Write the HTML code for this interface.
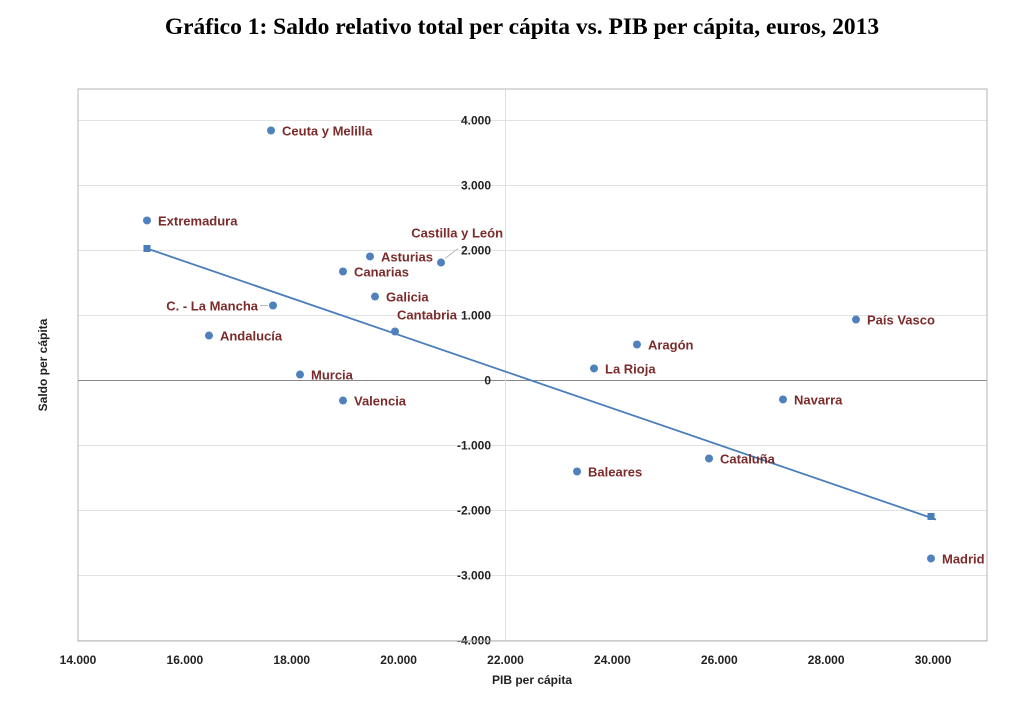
<!DOCTYPE html>
<html><head><meta charset="utf-8"><style>
body{margin:0;background:#fff;width:1013px;height:697px;overflow:hidden}
svg text{font-family:"Liberation Sans",sans-serif}
</style></head><body>
<svg width="1013" height="697">
<text x="522" y="34" text-anchor="middle" style="font-family:'Liberation Serif',serif;font-weight:bold;font-size:23.5px">Gráfico 1: Saldo relativo total per cápita vs. PIB per cápita, euros, 2013</text>
<g id="g"></g>
</svg>
<script>
const names=["Ceuta y Melilla","Extremadura","Castilla y León","Asturias","Canarias","Galicia","C. - La Mancha","Cantabria","Andalucía","Murcia","Valencia","Aragón","La Rioja","País Vasco","Navarra","Cataluña","Baleares","Madrid"];
const pib=[17612,15291,20793,19464,18959,19558,17649,19932,16451,18154,18959,24460,23656,28558,27192,25808,23338,29962];
const saldo=[3846,2462,1815,1908,1677,1292,1154,754,692,92,-308,554,185,938,-292,-1200,-1400,-2738];
const trendX=[15291,29962];
const trendY=[2031,-2092];
const xTicks=[14000,16000,18000,20000,22000,24000,26000,28000,30000];
const yTicks=[4000,3000,2000,1000,0,-1000,-2000,-3000,-4000];
const fmt=v=>{const s=Math.abs(v)>=1000?(Math.trunc(v/1000)+"."+String(Math.abs(v)%1000).padStart(3,"0")):String(v);return s;};
const X=v=>78+(v-14000)*53.44/1000, Y=v=>380.5-v*0.065;
const NS="http://www.w3.org/2000/svg",g=document.getElementById("g");
function el(t,a,txt){const e=document.createElementNS(NS,t);for(const k in a)e.setAttribute(k,a[k]);if(txt!=null)e.textContent=txt;g.appendChild(e);return e;}
yTicks.forEach(v=>{const e=el("line",{x1:78,x2:987,y1:Y(v),y2:Y(v),stroke:v===0?"#888":"#e2e2e2","stroke-width":1});


const t=el("text",{x:491,y:Y(v)+4,"text-anchor":"end","font-size":"12","font-weight":"bold",fill:"#222"},fmt(v));

});
const va=el("line",{x1:X(22000),x2:X(22000),y1:89,y2:641,stroke:"#e0e0e0"});


const fr=el("rect",{x:78,y:89,width:909,height:552,fill:"none",stroke:"#b5b5b5"});


xTicks.forEach(v=>{const t=el("text",{x:X(v),y:664,"text-anchor":"middle","font-size":"12","font-weight":"bold",fill:"#222"},fmt(v));

});
const xt=el("text",{x:532,y:684,"text-anchor":"middle","font-size":"12","font-weight":"bold",fill:"#222"},"PIB per cápita");


const yt=el("text",{x:0,y:0,transform:"translate(47,365) rotate(-90)","text-anchor":"middle","font-size":"12","font-weight":"bold",fill:"#222"},"Saldo per cápita");


const tl=el("line",{x1:X(trendX[0]),y1:Y(trendY[0]),x2:X(trendX[1])+5,y2:Y(trendY[1])+3,stroke:"#4a7ebb","stroke-width":1.8});


trendX.forEach((v,i)=>{const r=el("rect",{x:X(v)-3.5,y:Y(trendY[i])-3.5,width:7,height:7,fill:"#4a7ebb"});

});
names.forEach((n,i)=>{const x=X(pib[i]),y=Y(saldo[i]);
const c=el("circle",{cx:x,cy:y,r:4,fill:"#4f81bd"});


let lx=x+11,ly=y+5,anc="start";
if(n==="C. - La Mancha"){lx=x-15;anc="end";el("line",{x1:x-13,y1:y,x2:x-5,y2:y,stroke:"#bbb"});}
if(n==="Castilla y León"){lx=x+62;ly=y-25;anc="end";el("line",{x1:x+4,y1:y-4,x2:x+17,y2:y-14,stroke:"#bbb"});}
if(n==="Cantabria"){lx=x+62;ly=y-12;anc="end";}
const t=el("text",{x:lx,y:ly,"text-anchor":anc,"font-size":"13","font-weight":"bold",fill:"#7b2b2b"},n);

});
</script>
</body></html>
